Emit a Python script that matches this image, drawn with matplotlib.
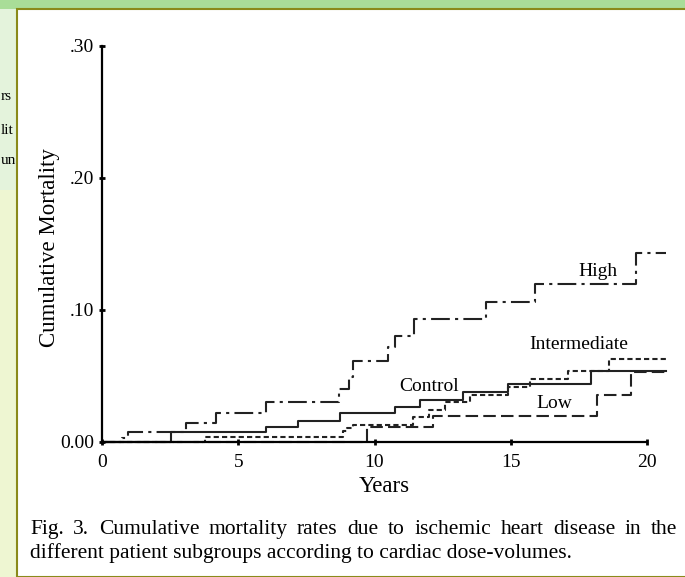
import matplotlib.pyplot as plt
from matplotlib.patches import Rectangle

# step curves (years, cumulative mortality)
high_t = [0, 0.72, 0.96, 3.1, 4.2, 6.0, 8.7, 9.06, 9.2, 10.5, 10.75, 11.45, 14.1, 15.9, 19.6, 20.7]
high_y = [0, 0.003, 0.0076, 0.0146, 0.022, 0.0305, 0.040, 0.049, 0.061, 0.072, 0.080, 0.093, 0.106, 0.120, 0.143, 0.143]

ctrl_t = [0, 2.55, 6.0, 7.2, 8.73, 10.75, 11.67, 13.25, 14.9, 17.93, 20.7]
ctrl_y = [0, 0.0076, 0.0114, 0.016, 0.022, 0.0265, 0.032, 0.038, 0.044, 0.054, 0.054]

inter_t = [0, 3.78, 8.85, 9.0, 9.2, 11.4, 12.0, 12.6, 13.5, 14.9, 15.7, 17.1, 18.6, 20.7]
inter_y = [0, 0.004, 0.008, 0.0105, 0.013, 0.019, 0.024, 0.030, 0.0356, 0.042, 0.0477, 0.054, 0.063, 0.063]

low_t = [0, 9.73, 12.15, 18.15, 19.4, 20.7]
low_y = [0, 0.011, 0.020, 0.0356, 0.053, 0.053]

yticks = [0, 0.10, 0.20, 0.30]
ytick_labels = ['0.00', '.10', '.20', '.30']
xticks = [0, 5, 10, 15, 20]

caption1 = "Fig. 3. Cumulative mortality rates due to ischemic heart disease in the"
caption2 = "different patient subgroups according to cardiac dose-volumes."

plt.rcParams['font.family'] = ['Liberation Serif', 'DejaVu Serif']

W, H = 685, 577
fig = plt.figure(figsize=(W / 100, H / 100), dpi=100)
fig.patch.set_facecolor('#a9dd98')

# screenshot background: left strip and white panel
fig.patches.append(Rectangle((0, 0), 17 / W, (H - 190) / H, transform=fig.transFigure,
                             facecolor='#eef6d2', edgecolor='none', zorder=-3))
fig.patches.append(Rectangle((0, (H - 190) / H), 17 / W, (190 - 9) / H, transform=fig.transFigure,
                             facecolor='#e4f3dc', edgecolor='none', zorder=-3))
for ty, s in [(97, 'rs'), (131, 'lit'), (160, 'un')]:
    fig.text(1 / W, 1 - ty / H, s, fontsize=11, va='center', ha='left', zorder=-2)
fig.patches.append(Rectangle((17 / W, 0), 1, 1 - 9 / H, transform=fig.transFigure,
                             facecolor='white', edgecolor='#8a8a1a', linewidth=1.5, zorder=-1))

ax = fig.add_axes([102 / W, (H - 442) / H, 20.75 * 27.25 / W, 396 / H])
ax.set_facecolor('none')

lw = 1.5
ax.step(high_t, high_y, where='post', color='#222222', lw=lw, dashes=(9, 2.5, 1.5, 2.5), clip_on=False)
ax.step(ctrl_t, ctrl_y, where='post', color='#222222', lw=lw, clip_on=False)
ax.step(inter_t, inter_y, where='post', color='#222222', lw=lw, dashes=(2.5, 1.5), clip_on=False)
ax.step(low_t, low_y, where='post', color='#222222', lw=lw, dashes=(6, 2.5), clip_on=False)

ax.text(18.2, 0.1295, 'High', fontsize=14, ha='center', va='center')
ax.text(17.5, 0.0742, 'Intermediate', fontsize=14, ha='center', va='center')
ax.text(12.0, 0.0424, 'Control', fontsize=14, ha='center', va='center')
ax.text(16.6, 0.0288, 'Low', fontsize=14, ha='center', va='center')

ax.set_xlim(0, 20.75)
ax.set_ylim(0, 0.30)
ax.spines['top'].set_visible(False)
ax.spines['right'].set_visible(False)
ax.spines['bottom'].set_bounds(0, 20)
for sp in ['left', 'bottom']:
    ax.spines[sp].set_linewidth(1.6)
ax.set_xticks(xticks)
ax.set_yticks(yticks)
ax.set_yticklabels(ytick_labels)
ax.tick_params(direction='inout', length=5, width=2, labelsize=14, pad=3)
ax.tick_params(axis='x', pad=6)
ax.set_xlabel('Years', fontsize=16.5, labelpad=4)
ax.set_ylabel('Cumulative Mortality', fontsize=16.5, labelpad=2)
ax.yaxis.set_label_coords(-42 / (20.75 * 27.25), 0.49)

# caption: first line justified across the panel, second line left aligned
cap_size = 15.5
renderer = fig.canvas.get_renderer()
left, right = 30, 677
words = caption1.split()
txts = [fig.text(0, 1 - 534 / H, w, fontsize=cap_size, va='baseline', ha='left') for w in words]
widths = [t.get_window_extent(renderer).width for t in txts]
gap = (right - left - sum(widths)) / (len(words) - 1)
xpos = left
for t, w in zip(txts, widths):
    t.set_x(xpos / W)
    xpos += w + gap
fig.text(left / W, 1 - 558 / H, caption2, fontsize=cap_size, va='baseline', ha='left')

fig.savefig('out.png', dpi=100)
